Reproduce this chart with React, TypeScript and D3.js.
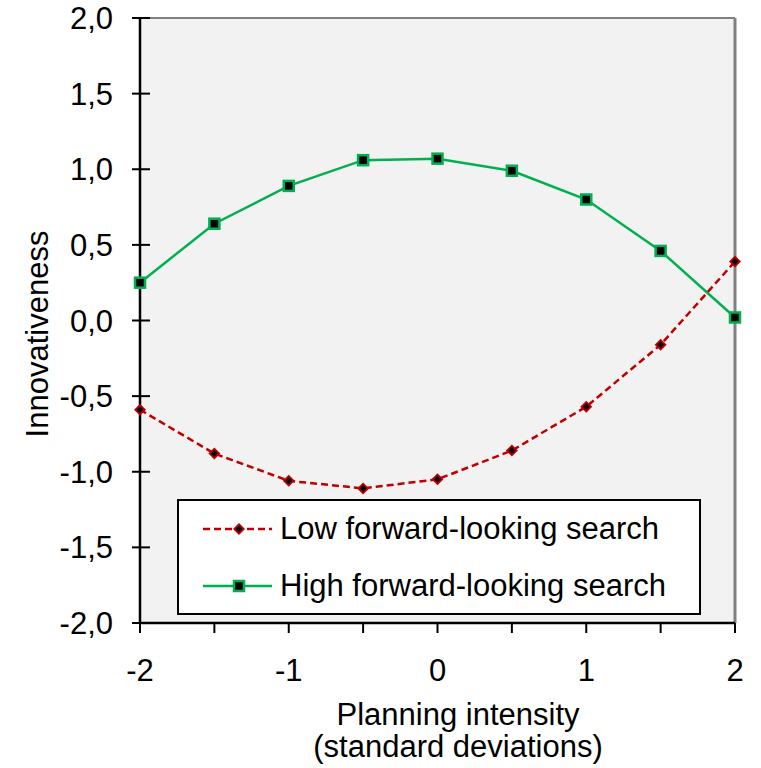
import React from "react";
import * as d3 from "d3";

const xValues = [-2, -1.5, -1, -0.5, 0, 0.5, 1, 1.5, 2];
const lowSearch = [-0.59, -0.88, -1.06, -1.11, -1.05, -0.86, -0.57, -0.16, 0.39];
const highSearch = [0.25, 0.64, 0.89, 1.06, 1.07, 0.99, 0.8, 0.46, 0.02];
const yTicks = [2, 1.5, 1, 0.5, 0, -0.5, -1, -1.5, -2];
const xTicks = [-2, -1, 0, 1, 2];
const xMinorTicks = [-2, -1.5, -1, -0.5, 0, 0.5, 1, 1.5, 2];
const seriesNames = ["Low forward-looking search", "High forward-looking search"];

const W = 761;
const H = 768;
const L = 140, R = 735, T = 18, B = 623;
const FONT = "Liberation Sans, Arial, sans-serif";
const FS = 31;
const RED = "#c00000";
const GREEN = "#00b050";

export default function App() {
  const x = d3.scaleLinear().domain([-2, 2]).range([L, R]);
  const y = d3.scaleLinear().domain([-2, 2]).range([B, T]);
  const fmt = (v: number) => d3.format(".1f")(v).replace(".", ",").replace("−", "-");
  const line = d3.line<number>().x((_, i) => x(xValues[i])).y((d) => y(d));

  const diamond = (cx: number, cy: number, key: string) => (
    <g key={key}>
      <path d={`M${cx},${cy - 6}L${cx + 6},${cy}L${cx},${cy + 6}L${cx - 6},${cy}Z`} fill={RED} />
      <path d={`M${cx},${cy - 3.5}L${cx + 3.5},${cy}L${cx},${cy + 3.5}L${cx - 3.5},${cy}Z`} fill="#000" />
    </g>
  );
  const square = (cx: number, cy: number, key: string) => (
    <rect key={key} x={cx - 5} y={cy - 5} width={10} height={10} fill="#000" stroke={GREEN} strokeWidth={2.5} />
  );

  return (
    <svg width={W} height={H} style={{ position: "absolute", left: 0, top: 0 }} fontFamily={FONT}>
      <rect x={0} y={0} width={W} height={H} fill="#fff" />
      <rect x={L} y={T} width={R - L} height={B - T} fill="#f2f2f2" />
      <line x1={L} x2={R} y1={T} y2={T} stroke="#808080" strokeWidth={2} />
      <line x1={R} x2={R} y1={T} y2={B} stroke="#808080" strokeWidth={3} />
      {/* y axis */}
      <line x1={L} x2={L} y1={T} y2={B} stroke="#000" strokeWidth={2.5} />
      {yTicks.map((t) => (
        <g key={"y" + t}>
          <line x1={L - 8} x2={L + 10} y1={y(t)} y2={y(t)} stroke="#000" strokeWidth={2} />
          <text x={113} y={y(t) + 11} textAnchor="end" fontSize={FS} fill="#000">
            {fmt(t)}
          </text>
        </g>
      ))}
      {/* x axis */}
      <line x1={L} x2={R} y1={B} y2={B} stroke="#000" strokeWidth={2.5} />
      {xMinorTicks.map((t) => (
        <line key={"xt" + t} x1={x(t)} x2={x(t)} y1={B} y2={B + 10} stroke="#000" strokeWidth={2} />
      ))}
      {xTicks.map((t) => (
        <text key={"xl" + t} x={x(t)} y={681} textAnchor="middle" fontSize={FS} fill="#000">
          {t < 0 ? "-" + Math.abs(t) : String(t)}
        </text>
      ))}
      {/* axis titles */}
      <text x={458} y={725} textAnchor="middle" fontSize={FS} fill="#000">Planning intensity</text>
      <text x={458} y={757} textAnchor="middle" fontSize={FS} fill="#000">(standard deviations)</text>
      <text transform={`translate(48,334) rotate(-90)`} textAnchor="middle" fontSize={FS} fill="#000">Innovativeness</text>

      {/* series */}
      <path d={line(highSearch) || ""} fill="none" stroke={GREEN} strokeWidth={2.5} />
      <path d={line(lowSearch) || ""} fill="none" stroke={RED} strokeWidth={2.5} strokeDasharray="7,4" />
      {highSearch.map((v, i) => square(x(xValues[i]), y(v), "h" + i))}
      {lowSearch.map((v, i) => diamond(x(xValues[i]), y(v), "l" + i))}

      {/* legend */}
      <rect x={178} y={500} width={522} height={114} fill="#fff" stroke="#000" strokeWidth={2} />
      <line x1={203} x2={272} y1={529} y2={529} stroke={RED} strokeWidth={2.5} strokeDasharray="7,4" />
      {diamond(239, 529, "ld")}
      <text x={280} y={539} fontSize={FS} fill="#000">{seriesNames[0]}</text>
      <line x1={203} x2={272} y1={586} y2={586} stroke={GREEN} strokeWidth={2.5} />
      {square(239, 586, "ls")}
      <text x={280} y={596} fontSize={FS} fill="#000">{seriesNames[1]}</text>
    </svg>
  );
}
